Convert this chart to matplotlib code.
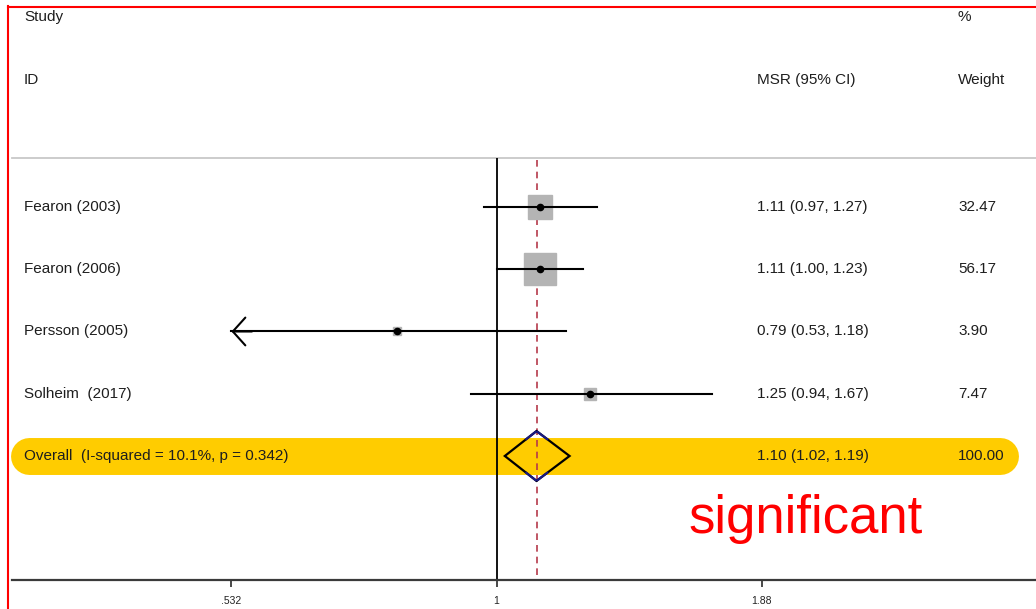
import numpy as np
import matplotlib
matplotlib.use("Agg")
import matplotlib.pyplot as plt
from matplotlib.transforms import blended_transform_factory
from matplotlib.patches import Polygon

plt.rcParams["font.family"] = ["Liberation Sans", "DejaVu Sans"]
plt.rcParams["text.color"] = "#1e1e1e"

# data
studies = ["Fearon (2003)", "Fearon (2006)", "Persson (2005)", "Solheim  (2017)"]
msr = [1.11, 1.11, 0.79, 1.25]
ci_low = [0.97, 1.00, 0.53, 0.94]
ci_high = [1.27, 1.23, 1.18, 1.67]
weights = [32.47, 56.17, 3.90, 7.47]
overall_label = "Overall  (I-squared = 10.1%, p = 0.342)"
overall_msr = 1.10
overall_low = 1.02
overall_high = 1.19
overall_weight = 100.00
tick_values = [0.532, 1, 1.88]
tick_labels = [".532", "1", "1.88"]

W, H = 1036, 609
fig = plt.figure(figsize=(W / 100, H / 100), dpi=100)
ax = fig.add_axes([0, 0, 1, 1])
ax.set_xscale("log")
# 1 at px 496.5, 420 px per ln unit
ax.set_xlim(np.exp(-496.5 / 420), np.exp((W - 496.5) / 420))
ax.set_ylim(6.458, -3.325)
ax.axis("off")

tb = blended_transform_factory(ax.transAxes, ax.transData)
clip_low = tick_values[0]

# yellow band behind overall row
ov_row = len(studies)
ax.plot([28.5 / W, 999.5 / W], [ov_row, ov_row], transform=tb, color="#ffcc00",
        lw=26.6, solid_capstyle="round", zorder=0)

# header
ax.text(24 / W, -3.05, "Study", transform=tb, fontsize=11, va="center")
ax.text(24 / W, -2.04, "ID", transform=tb, fontsize=11, va="center")
ax.text(958 / W, -3.05, "%", transform=tb, fontsize=11, va="center")
ax.text(757 / W, -2.04, "MSR (95% CI)", transform=tb, fontsize=11, va="center")
ax.text(958 / W, -2.04, "Weight", transform=tb, fontsize=11, va="center")
ax.plot([12 / W, 1], [-0.787, -0.787], transform=tb, color="#c8c8c8", lw=1.3)

# reference lines
ax.vlines(1, -0.787, 6.0, color="black", lw=1.3, zorder=2)
ax.vlines(overall_msr, -0.75, 6.0, color="#b5394a", lw=1.2, linestyles=(0, (4, 3)), zorder=2)

# study rows
for i, (name, m, lo, hi, w) in enumerate(zip(studies, msr, ci_low, ci_high, weights)):
    side = 24 * np.sqrt(w / weights[0]) * 0.72
    ax.plot(m, i, marker="s", ms=side, color="#b4b4b4", mec="#b4b4b4", zorder=3)
    if lo < clip_low:
        ax.plot([clip_low, hi], [i, i], color="black", lw=1.5, zorder=4)
        ax.annotate("", xy=(clip_low, i), xytext=(clip_low * 1.05, i),
                    arrowprops=dict(arrowstyle="->,head_length=0.45,head_width=0.5",
                                    mutation_scale=20, lw=1.5, color="black",
                                    shrinkA=0, shrinkB=0), zorder=4)
    else:
        ax.plot([lo, hi], [i, i], color="black", lw=1.5, zorder=4)
    ax.plot(m, i, marker="o", ms=4.5, color="black", zorder=5)
    ax.text(24 / W, i, name, transform=tb, fontsize=11, va="center")
    ax.text(757 / W, i, f"{m:.2f} ({lo:.2f}, {hi:.2f})", transform=tb, fontsize=11, va="center")
    ax.text(958 / W, i, f"{w:.2f}", transform=tb, fontsize=11, va="center")

# overall diamond
hh = 0.4
diamond = [(overall_low, ov_row), (overall_msr, ov_row - hh),
           (overall_high, ov_row), (overall_msr, ov_row + hh)]
ax.add_patch(Polygon(diamond, closed=True, facecolor="none", edgecolor="black",
                     lw=1.6, zorder=4))
# navy tips
for tip_y in (ov_row - hh, ov_row + hh):
    for end in (overall_low, overall_high):
        f = 0.35
        xs = np.exp([np.log(overall_msr), np.log(overall_msr) + f * (np.log(end) - np.log(overall_msr))])
        ys = [tip_y, tip_y + f * (ov_row - tip_y)]
        ax.plot(xs, ys, color="#1a1a80", lw=1.6, zorder=5, solid_capstyle="butt")

ax.text(24 / W, ov_row, overall_label, transform=tb, fontsize=11, va="center")
ax.text(757 / W, ov_row, f"{overall_msr:.2f} ({overall_low:.2f}, {overall_high:.2f})",
        transform=tb, fontsize=11, va="center")
ax.text(958 / W, ov_row, f"{overall_weight:.2f}", transform=tb, fontsize=11, va="center")

# bottom axis
ax.plot([12 / W, 1], [6.0, 6.0], transform=tb, color="#3a3a3a", lw=1.6)
ax.vlines(tick_values, 6.0, 6.1, color="#3a3a3a", lw=1.3)
for tv, tl in zip(tick_values, tick_labels):
    ax.text(tv, 6.33, tl, fontsize=7.5, ha="center", va="center", color="#222222")

# annotation
ax.text(688 / W, 5.237, "significant", transform=tb, fontsize=38, color="red",
        va="baseline")

# red frame
fig.add_artist(plt.Line2D([7.5 / W, 7.5 / W], [0, 1 - 6 / H], color="red", lw=1.5))
fig.add_artist(plt.Line2D([7.5 / W, 1], [1 - 6.5 / H, 1 - 6.5 / H], color="red", lw=1.5))

fig.savefig("out.png", dpi=100)
